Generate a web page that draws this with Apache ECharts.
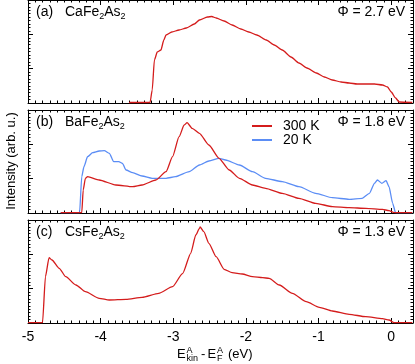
<!DOCTYPE html>
<html>
<head>
<meta charset="utf-8">
<script src="https://cdn.jsdelivr.net/npm/echarts@6/dist/echarts.min.js"></script>
<style>
  html, body { margin: 0; padding: 0; background: #fff; }
  #chart { width: 415px; height: 364px; }
</style>
</head>
<body>
<div id="chart"></div>
<script>
// energy axis (eV) and intensity (arb. u.)
const xTicks = [-5, -4, -3, -2, -1, 0]

// (a) CaFe2As2
const caE = [-3.61, -3.32, -3.29, -3.26, -3.22, -3.17, -3.13, -3.10, -3.02, -2.92, -2.82, -2.71, -2.64, -2.53, -2.47, -2.41, -2.30, -2.19, -2.07, -1.96, -1.85, -1.72, -1.61, -1.50, -1.38, -1.27, -1.16, -1.03, -0.92, -0.81, -0.69, -0.58, -0.47, -0.34, -0.23, -0.12, -0.05, 0.00, 0.06, 0.11, 0.29]
const caI = [0.5, 0.5, 13, 43, 51, 53, 63, 68, 71, 73, 75, 79, 83, 86, 86.5, 85, 82, 78, 74, 71, 68, 63, 58, 53, 46, 40, 35, 30, 26, 23, 21, 20, 19, 19, 19, 18, 16, 11, 5, 1, 0.5]

// (b) BaFe2As2, 300 K
const baHotE = [-4.55, -4.26, -4.24, -4.21, -4.18, -4.02, -3.79, -3.56, -3.43, -3.24, -3.10, -3.01, -2.92, -2.85, -2.81, -2.74, -2.64, -2.51, -2.37, -2.23, -2.09, -1.91, -1.73, -1.50, -1.27, -1.04, -0.81, -0.58, -0.35, -0.12, -0.03, 0.04, 0.29]
const baHotI = [0.3, 0.3, 23, 34.7, 36.3, 33, 28, 26.3, 28, 33, 41.3, 56.3, 76.3, 88, 90.3, 84.7, 79.7, 68, 54.7, 43, 34.7, 28, 24.7, 19.7, 14.7, 9.7, 6.3, 5.3, 4.7, 3.7, 2.3, 0.3, 0.3]

// (b) BaFe2As2, 20 K
const baColdE = [-4.55, -4.29, -4.26, -4.23, -4.18, -4.11, -4.02, -3.95, -3.88, -3.82, -3.75, -3.70, -3.65, -3.56, -3.43, -3.29, -3.10, -2.97, -2.78, -2.64, -2.51, -2.37, -2.28, -2.09, -1.91, -1.73, -1.50, -1.27, -1.04, -0.81, -0.58, -0.40, -0.30, -0.23, -0.19, -0.13, -0.07, -0.03, 0.02, 0.06, 0.29]
const baColdI = [0.3, 0.3, 36.3, 46.3, 56.3, 60.3, 62, 62.3, 59.7, 51.3, 51.3, 49.7, 43, 40.3, 37, 34.7, 34.7, 36.3, 41.3, 48, 52, 54.7, 53, 48, 41.3, 34.7, 31.3, 26.3, 19.7, 15.3, 13.7, 14.7, 19.7, 29.7, 33, 29.7, 32.3, 26.3, 9.7, 0.3, 0.3]

// (c) CsFe2As2
const csE = [-5.0, -4.83, -4.80, -4.76, -4.71, -4.67, -4.57, -4.48, -4.34, -4.21, -4.02, -3.88, -3.65, -3.43, -3.20, -3.01, -2.87, -2.76, -2.69, -2.64, -2.63, -2.58, -2.51, -2.41, -2.30, -2.19, -2.05, -1.91, -1.77, -1.68, -1.54, -1.36, -1.17, -0.99, -0.81, -0.58, -0.35, -0.12, -0.03, 0.04, 0.29]
const csI = [0.3, 0.3, 0.3, 46.3, 65.3, 63, 54.7, 46.3, 38, 31.3, 24.7, 23, 23.7, 25.7, 29.7, 36.3, 49.7, 69.7, 88, 94.7, 96, 91.3, 79.7, 66.3, 53.7, 50.3, 49, 46.3, 45.3, 44.7, 38, 29.7, 21.3, 15.7, 12, 8.7, 6.3, 4.3, 3, 0.3, 0.3]

const panels = [
  { tag: '(a)', name: 'CaFe{s|2}As{s|2}', phi: 'Φ = 2.7 eV' },
  { tag: '(b)', name: 'BaFe{s|2}As{s|2}', phi: 'Φ = 1.8 eV' },
  { tag: '(c)', name: 'CsFe{s|2}As{s|2}', phi: 'Φ = 1.3 eV' }
]

const RED = '#d41c1c'
const BLUE = '#5b8df5'
const FONT = 'Liberation Sans, Arial, sans-serif'
const gridTops = [0, 110, 220]
const PH = 103

const zip = (xs, ys) => xs.map((x, i) => [x, ys[i]])

const chart = echarts.init(document.getElementById('chart'))

const grids = gridTops.map(t => ({ left: 28, right: 2, top: t, height: PH }))

const lineBlack = { color: '#000', width: 1 }

// 4 x axes per panel: bottom major, bottom minor, top major, top minor
const xAxes = []
gridTops.forEach((t, gi) => {
  ;['bottom', 'top'].forEach(pos => {
    xAxes.push({
      type: 'value', gridIndex: gi, position: pos,
      min: -5, max: 0.3, interval: 1,
      axisLine: { show: true, onZero: false, lineStyle: lineBlack },
      axisTick: { inside: true, length: 5, lineStyle: lineBlack },
      axisLabel: {
        show: pos === 'bottom' && gi === 2, margin: 7, showMaxLabel: false,
        color: '#000', fontSize: 14, fontFamily: FONT
      },
      splitLine: { show: false }
    })
    xAxes.push({
      type: 'value', gridIndex: gi, position: pos,
      min: -5, max: 0.3, interval: 0.1,
      axisLine: { show: false, onZero: false },
      axisTick: { inside: true, length: 2.5, lineStyle: lineBlack },
      axisLabel: { show: false },
      splitLine: { show: false }
    })
  })
})

const yAxes = []
gridTops.forEach((t, gi) => {
  ;['left', 'right'].forEach(pos => {
    yAxes.push({
      type: 'value', gridIndex: gi, position: pos,
      min: 0, max: PH, interval: PH / 3,
      axisLine: { show: true, onZero: false, lineStyle: lineBlack },
      axisTick: { inside: true, length: 5, lineStyle: lineBlack },
      minorTick: { show: true, splitNumber: 10, length: 2.5, lineStyle: lineBlack },
      axisLabel: { show: false },
      splitLine: { show: false }
    })
  })
})

const mkLine = (name, gi, data, color, z) => ({
  name, type: 'line', xAxisIndex: gi * 4, yAxisIndex: gi * 2,
  data, showSymbol: false, symbol: 'none', z,
  smooth: 0.2, smoothMonotone: 'x',
  color, lineStyle: { color, width: 1.3 }
})

const series = [
  mkLine('CaFe2As2', 0, zip(caE, caI), RED, 3),
  mkLine('20 K', 1, zip(baColdE, baColdI), BLUE, 2),
  mkLine('300 K', 1, zip(baHotE, baHotI), RED, 3),
  mkLine('CsFe2As2', 2, zip(csE, csI), RED, 3)
]

const txt = (x, y, text, extra = {}) => ({
  type: 'text', x, y, silent: true,
  style: Object.assign({
    text, fill: '#000', fontSize: 14, fontFamily: FONT,
    textVerticalAlign: 'middle', verticalAlign: 'middle'
  }, extra)
})

const graphic = []
panels.forEach((p, i) => {
  const yc = gridTops[i] + 12
  graphic.push(txt(36, yc, p.tag))
  graphic.push(txt(65, yc, p.name, {
    rich: { s: { fontSize: 9, fontFamily: FONT, padding: [9, 0, 0, 0] } }
  }))
  graphic.push(txt(405, yc, p.phi, { align: 'right', textAlign: 'right' }))
})

// x axis title: E^A_kin - E^A_F (eV)
graphic.push(txt(177, 354.5, 'E', { fontSize: 13 }))
graphic.push(txt(186.5, 350.5, 'A', { fontSize: 9 }))
graphic.push(txt(186.5, 358.5, 'kin', { fontSize: 9 }))
graphic.push(txt(201, 354.5, '-', { fontSize: 13 }))
graphic.push(txt(207.5, 354.5, 'E', { fontSize: 13 }))
graphic.push(txt(217, 350.5, 'A', { fontSize: 9 }))
graphic.push(txt(217, 358.5, 'F', { fontSize: 9 }))
graphic.push(txt(228, 354.5, '(eV)', { fontSize: 13 }))

// y axis title
graphic.push({
  type: 'text', x: 11, y: 161, rotation: Math.PI / 2, silent: true,
  style: {
    text: 'Intensity (arb. u.)', fill: '#000', fontSize: 13, fontFamily: FONT,
    align: 'center', textAlign: 'center', verticalAlign: 'middle', textVerticalAlign: 'middle'
  }
})

chart.setOption({
  animation: false,
  backgroundColor: '#fff',
  grid: grids,
  xAxis: xAxes,
  yAxis: yAxes,
  legend: {
    data: ['300 K', '20 K'],
    orient: 'vertical', left: 247, top: 114,
    icon: 'rect', itemWidth: 20, itemHeight: 2, itemGap: 0,
    selectedMode: false,
    textStyle: { color: '#000', fontSize: 14, fontFamily: FONT, lineHeight: 12, padding: [0, 0, 0, 6] }
  },
  series,
  graphic
})
</script>
</body>
</html>
